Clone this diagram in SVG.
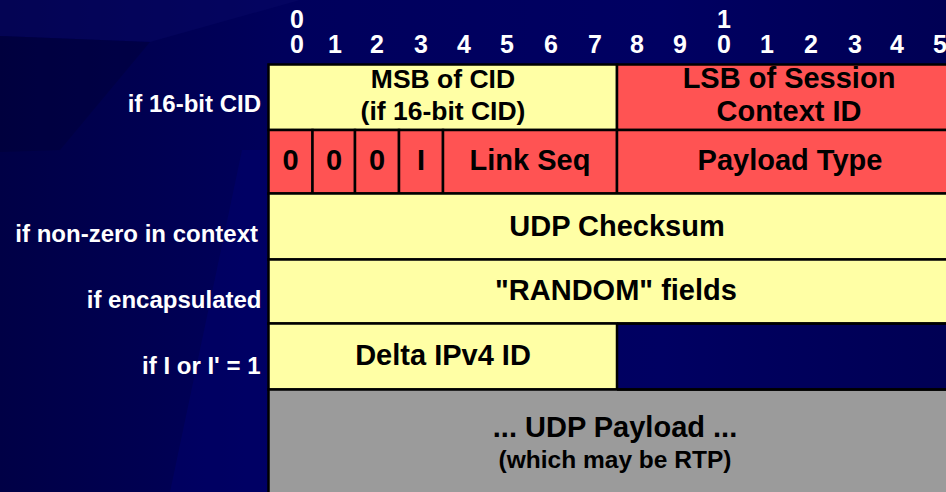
<svg xmlns="http://www.w3.org/2000/svg" width="946" height="492" viewBox="0 0 946 492">
  <defs>
    <linearGradient id="bgH" x1="0" y1="0" x2="946" y2="0" gradientUnits="userSpaceOnUse">
      <stop offset="0" stop-color="#000046"/>
      <stop offset="0.3" stop-color="#00005c"/>
      <stop offset="0.7" stop-color="#000062"/>
      <stop offset="1" stop-color="#000054"/>
    </linearGradient>
    <style>
      .fld { stroke: #000; stroke-width: 2.5; }
      .yel { fill: #ffffa5; }
      .red { fill: #ff5353; }
      .gry { fill: #9b9b9b; }
      .rule { stroke: #000; stroke-width: 2.5; fill: none; }
      text { font-family: "Liberation Sans", Arial, Helvetica, sans-serif; font-weight: bold; }
      .bit { fill: #fff; font-size: 25px; text-anchor: middle; }
      .cond { fill: #fff; font-size: 24px; text-anchor: end; }
      .lbl { fill: #000; font-size: 29px; text-anchor: middle; }
      .lbl-s { fill: #000; font-size: 26.5px; text-anchor: middle; }
      .note { fill: #000; font-size: 24.5px; text-anchor: middle; }
    </style>
  </defs>

  <!-- slide background with faint facets -->
  <rect x="0" y="0" width="946" height="492" fill="url(#bgH)"/>
  <polygon points="0,0 300,0 150,42 0,36" fill="#0a0a6a" opacity="0.4"/>
  <polygon points="0,36 150,42 60,150 0,152" fill="#000030" opacity="0.3"/>
  <polygon points="242,150 268,150 268,492 170,492" fill="#000078" opacity="0.35"/>

  <!-- bit position ruler (two-digit positions are stacked) -->
  <g id="ruler">
    <text class="bit" x="297" y="28">0<tspan x="297" dy="25">0</tspan></text>
    <text class="bit" x="724" y="28">1<tspan x="724" dy="25">0</tspan></text>
    <text class="bit" x="335" y="53">1</text>
    <text class="bit" x="377" y="53">2</text>
    <text class="bit" x="421" y="53">3</text>
    <text class="bit" x="464" y="53">4</text>
    <text class="bit" x="507" y="53">5</text>
    <text class="bit" x="551" y="53">6</text>
    <text class="bit" x="595" y="53">7</text>
    <text class="bit" x="637" y="53">8</text>
    <text class="bit" x="680" y="53">9</text>
    <text class="bit" x="767" y="53">1</text>
    <text class="bit" x="811" y="53">2</text>
    <text class="bit" x="855" y="53">3</text>
    <text class="bit" x="897" y="53">4</text>
    <text class="bit" x="940" y="53">5</text>
  </g>

  <!-- conditions for the optional fields -->
  <g id="conditions">
    <text class="cond" x="261" y="112">if 16-bit CID</text>
    <text class="cond" x="258" y="242">if non-zero in context</text>
    <text class="cond" x="261.5" y="308">if encapsulated</text>
    <text class="cond" x="260.5" y="374">if I or I' = 1</text>
  </g>

  <!-- header fields -->
  <g id="msb-cid">
    <rect class="yel fld" x="268.5" y="64.5" width="348.5" height="65.5"/>
    <text class="lbl-s" x="443" y="87.5">MSB of CID</text>
    <text class="lbl-s" x="443" y="119.5">(if 16-bit CID)</text>
  </g>
  <g id="lsb-cid">
    <rect class="red fld" x="617" y="64.5" width="348" height="65.5"/>
    <text class="lbl" x="789" y="88">LSB of Session</text>
    <text class="lbl" x="789" y="120.5">Context ID</text>
  </g>
  <g id="flag-bits">
    <rect class="red fld" x="268.5" y="130" width="44" height="63.5"/>
    <text class="lbl" x="290.5" y="170">0</text>
    <rect class="red fld" x="312.5" y="130" width="42.5" height="63.5"/>
    <text class="lbl" x="334" y="170">0</text>
    <rect class="red fld" x="355" y="130" width="44" height="63.5"/>
    <text class="lbl" x="377" y="170">0</text>
    <rect class="red fld" x="399" y="130" width="44" height="63.5"/>
    <text class="lbl" x="421" y="170">I</text>
  </g>
  <g id="link-seq">
    <rect class="red fld" x="443" y="130" width="174" height="63.5"/>
    <text class="lbl" x="530" y="170">Link Seq</text>
  </g>
  <g id="payload-type">
    <rect class="red fld" x="617" y="130" width="348" height="63.5"/>
    <text class="lbl" x="790" y="169.5">Payload Type</text>
  </g>
  <g id="udp-checksum">
    <rect class="yel fld" x="268.5" y="193.5" width="696.5" height="66"/>
    <text class="lbl" x="617" y="236">UDP Checksum</text>
  </g>
  <g id="random-fields">
    <rect class="yel fld" x="268.5" y="259.5" width="696.5" height="64"/>
    <text class="lbl" x="616" y="300">"RANDOM" fields</text>
  </g>
  <g id="delta-ipid">
    <rect class="yel fld" x="268.5" y="323.5" width="348.5" height="66"/>
    <text class="lbl" x="443" y="365">Delta IPv4 ID</text>
  </g>
  <g id="udp-payload">
    <rect class="gry fld" x="268.5" y="389.5" width="696.5" height="120"/>
    <text class="lbl" x="615" y="437">... UDP Payload ...</text>
    <text class="note" x="615" y="468">(which may be RTP)</text>
  </g>

  <!-- row rules spanning the empty half of the Delta IPv4 ID row -->
  <g id="rules">
    <line class="rule" x1="617" y1="323.5" x2="965" y2="323.5"/>
    <line class="rule" x1="617" y1="389.5" x2="965" y2="389.5"/>
  </g>
</svg>
